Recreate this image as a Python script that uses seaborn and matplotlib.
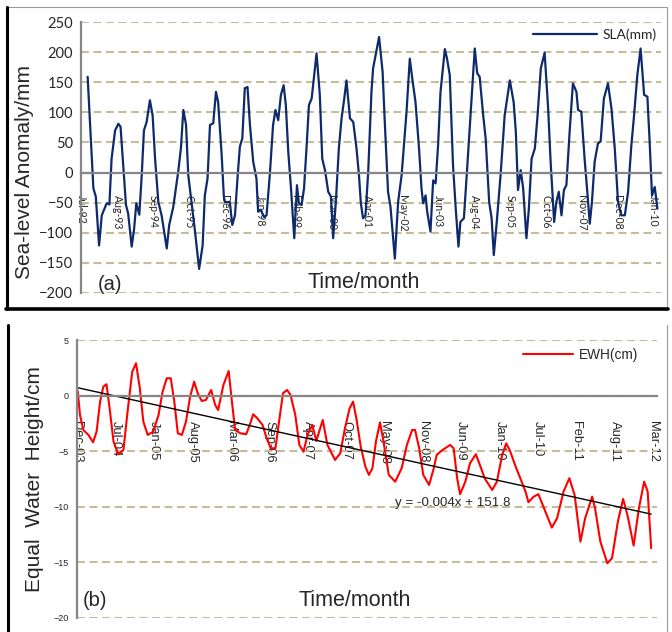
import numpy as np
import pandas as pd
import matplotlib
matplotlib.use("Agg")
import matplotlib.pyplot as plt
from matplotlib.lines import Line2D
import seaborn as sns

# (a) sea-level anomaly, x = months after the first date tick (Jul-92)
sla_start = "1992-07-16"
sla_months = [2.3, 4.4, 5.3, 6.5, 7.5, 9.3, 10.3, 11.1, 12.4, 13.6,
              14.4, 15.4, 16.4, 17.2, 18.5, 19.4, 20.2, 21.3, 22.2, 23.0,
              24.0, 25.2, 26.2, 27.1, 28.3, 29.5, 31.4, 32.3, 33.8, 35.6,
              36.6, 37.5, 38.5, 39.3, 40.5, 41.8, 43.3, 44.6, 45.4, 46.4,
              47.3, 48.5, 49.5, 50.3, 51.6, 52.4, 52.8, 54.6, 55.5, 56.5,
              57.5, 58.3, 59.2, 60.1, 61.1, 62.0, 63.2, 64.4, 65.0, 66.0,
              67.2, 68.1, 69.3, 70.5, 71.4, 72.4, 73.4, 74.4, 75.2, 76.1,
              77.1, 78.3, 79.3, 80.0, 81.0, 81.9, 82.8, 83.7, 84.7, 86.5,
              87.7, 88.6, 89.6, 90.8, 91.8, 92.6, 93.6, 94.7, 95.7, 96.7,
              97.5, 98.8, 100.0, 101.2, 102.1, 102.8, 103.6, 104.5, 105.5, 106.7,
              107.3, 109.5, 110.8, 111.6, 112.8, 113.7, 115.3, 116.5, 117.8, 119.6,
              120.8, 121.8, 122.9, 124.2, 125.1, 125.7, 126.6, 127.2, 128.4, 129.4,
              130.3, 131.2, 132.1, 133.7, 134.5, 135.5, 136.7, 137.7, 138.7, 139.4,
              140.7, 141.9, 142.9, 144.7, 145.6, 146.5, 147.8, 148.7, 150.0, 150.9,
              151.7, 152.7, 154.2, 155.7, 157.6, 159.0, 159.8, 160.6, 161.6, 162.5,
              163.7, 164.6, 165.6, 166.8, 167.8, 169.0, 170.4, 171.7, 172.6, 173.9,
              174.7, 175.6, 176.6, 177.5, 178.4, 179.6, 180.8, 182.1, 182.7, 183.9,
              185.1, 186.1, 187.0, 187.8, 188.8, 190.0, 191.0, 192.2, 193.7, 195.0,
              196.2, 197.4, 198.6, 199.9, 201.1, 202.3, 203.3, 204.5, 205.7, 207.0,
              208.2, 209.0, 209.9, 210.9, 211.9]
sla_mm = [159, -26, -40, -121, -71, -51, -53, 23, 70, 81,
          76, 12, -54, -68, -123, -93, -51, -70, -4, 70,
          84, 120, 95, 23, -49, -71, -126, -87, -57, 1,
          40, 104, 79, -4, -49, -98, -160, -121, -38, -10,
          79, 82, 134, 117, 29, -40, -49, -49, -87, -71,
          -4, 43, 57, 140, 142, 79, 18, -10, -65, -62,
          -74, -71, -4, 79, 104, 87, 129, 145, 112, 34,
          -26, -109, -21, -51, -54, -26, 40, 112, 123, 198,
          129, 23, 4, -32, -40, -109, -49, 40, 90, 123,
          153, 90, 84, 40, -4, -51, -76, -71, 1, 134,
          173, 225, 167, 84, -32, -57, -143, -49, -4, 101,
          189, 153, 117, 40, -26, -51, -38, -65, -98, -13,
          -18, 45, 134, 205, 189, 162, 12, -60, -123, -82,
          -76, 7, 79, 206, 165, 159, 95, 57, -49, -76,
          -137, -87, -4, 95, 153, 117, 68, -29, 4, -26,
          -109, -60, 23, 40, 95, 173, 199, 106, 18, -82,
          -49, -32, -71, -29, -21, 68, 148, 134, 104, 101,
          23, -32, -85, -49, 18, 48, 52, 123, 148, 106,
          40, -49, -71, -71, -32, 45, 95, 162, 206, 129,
          126, 54, -38, -24, -60]
sla_ticks = ["Jul-92", "Aug-93", "Sep-94", "Oct-95", "Dec-96", "Jan-98",
             "Feb-99", "Mar-00", "Apr-01", "May-02", "Jun-03", "Aug-04",
             "Sep-05", "Oct-06", "Nov-07", "Dec-08", "Jan-10"]

# (b) equal water height, x = months after Dec-03
ewh_start = "2003-12-28"
ewh_months = [0.07, 0.46, 1.03, 1.9, 2.7, 3.3, 3.9, 4.45, 5.0, 5.6,
              6.2, 7.0, 7.9, 8.6, 9.4, 10.05, 10.7, 11.3, 12.05, 13.0,
              13.9, 14.6, 15.3, 16.0, 16.6, 17.2, 17.9, 18.6, 19.3, 20.0,
              20.6, 21.3, 22.0, 22.9, 23.6, 24.1, 25.0, 25.9, 26.4, 27.0,
              27.9, 28.9, 29.6, 30.1, 30.8, 31.7, 32.4, 33.1, 33.9, 34.6,
              35.2, 35.9, 36.5, 37.3, 38.0, 38.7, 39.4, 40.2, 40.9, 42.0,
              42.8, 44.1, 45.0, 45.8, 46.6, 47.2, 47.8, 48.5, 49.3, 49.9,
              50.5, 51.1, 51.8, 52.4, 53.3, 54.4, 55.5, 56.4, 57.3, 57.8,
              58.5, 59.2, 60.2, 61.0, 61.5, 62.5, 63.8, 64.4, 65.0, 65.5,
              66.4, 67.2, 68.2, 69.0, 69.7, 71.0, 71.8, 72.7, 73.4, 74.1,
              74.9, 75.8, 76.7, 77.2, 78.1, 78.9, 80.1, 81.2, 82.1, 83.2,
              84.2, 85.1, 86.1, 86.9, 88.1, 88.6, 89.5, 90.7, 91.5, 92.5,
              93.4, 94.2, 95.2, 96.1, 97.0, 97.6, 98.2]
ewh_cm = [0.43, -1.73, -3.08, -3.53, -4.19, -3.23, -0.53, 0.82, 1.04, -1.43,
          -4.13, -5.27, -4.88, -1.43, 2.17, 2.93, 0.68, -2.33, -3.53, -3.23,
          -1.73, 0.37, 1.58, 1.58, -0.53, -3.38, -3.53, -2.33, -0.08, 1.27,
          0.23, -0.47, -0.38, 0.52, -0.83, -1.28, 0.97, 2.23, -0.23, -3.08,
          -3.38, -3.47, -2.48, -1.67, -2.03, -2.63, -3.83, -4.73, -4.73, -2.03,
          0.23, 0.52, 0.07, -1.73, -4.43, -5.04, -3.53, -2.63, -4.07, -2.18,
          -4.43, -5.78, -5.18, -2.93, -1.13, -0.53, -2.18, -4.58, -6.39, -7.13,
          -6.53, -4.13, -2.39, -4.13, -7.13, -7.74, -6.53, -4.43, -3.08, -3.08,
          -4.73, -7.13, -8.04, -6.53, -5.33, -4.88, -4.43, -4.73, -7.43, -8.87,
          -7.74, -6.08, -5.27, -6.39, -7.43, -8.49, -7.74, -5.33, -4.28, -5.04,
          -6.23, -7.43, -8.64, -9.59, -9.09, -8.87, -10.44, -11.88, -11.04, -8.64,
          -7.43, -8.94, -13.14, -11.04, -9.09, -10.14, -13.14, -15.09, -14.64, -11.34,
          -9.30, -10.89, -13.50, -10.14, -7.74, -8.64, -13.74]
ewh_ticks = ["Dec-03", "Jul-04", "Jan-05", "Aug-05", "Mar-06", "Sep-06",
             "Apr-07", "Oct-07", "May-08", "Nov-08", "Jun-09", "Jan-10",
             "Jul-10", "Feb-11", "Aug-11", "Mar-12"]

W, H = 672, 632
GRID = "#C4BD97"
AXIS = "#868686"


def to_dates(start, months):
    return pd.Timestamp(start) + pd.to_timedelta(np.array(months) * 30.44, unit="D")


def px_box(x0, x1, y0, y1):
    # pixel box (top-left origin) -> figure fraction rect
    return [x0 / W, 1 - y1 / H, (x1 - x0) / W, (y1 - y0) / H]


def style_axis(ax, start, step_days, labels, xmax_days, ylim, ystep,
               tick_font, tick_size, ytick_size, label_pad):
    ax.set_xlim(pd.Timestamp(start), pd.Timestamp(start) + pd.Timedelta(days=xmax_days))
    ax.set_ylim(*ylim)
    ax.set_yticks(np.arange(ylim[0], ylim[1] + 1, ystep))
    ax.yaxis.grid(True, color=GRID, linestyle=(0, (3.8, 2.2)), linewidth=1.5)
    ax.xaxis.grid(False)
    ax.set_axisbelow(True)
    for s in ["top", "right"]:
        ax.spines[s].set_visible(False)
    ax.spines["bottom"].set_position(("data", 0))
    for s in ["bottom", "left"]:
        ax.spines[s].set_color(AXIS)
        ax.spines[s].set_linewidth(1.6)
    tick_dates = pd.Timestamp(start) + pd.to_timedelta(np.arange(len(labels)) * step_days, unit="D")
    ax.set_xticks(tick_dates, labels=labels)
    for t in ax.get_xticklabels():
        t.set_rotation(270)
        t.set_fontfamily(tick_font)
        t.set_fontsize(tick_size)
        t.set_va("top")
        t.set_ha("center")
    ax.tick_params(axis="x", direction="out", length=3, width=1.2, color=AXIS, pad=label_pad)
    ax.tick_params(axis="y", direction="out", length=3, width=1.2, color=AXIS,
                   labelsize=ytick_size, pad=3)
    for t in ax.get_yticklabels():
        t.set_fontfamily(tick_font)
    ax.set_xlabel("")
    ax.set_ylabel("")


sns.set_style("white")
plt.rcParams["font.family"] = ["Liberation Sans", "DejaVu Sans"]

fig = plt.figure(figsize=(W / 100, H / 100), dpi=100)

# ---- panel (a)
ax1 = fig.add_axes(px_box(81.4, 661, 22, 293))
df_a = pd.DataFrame({"date": to_dates(sla_start, sla_months), "SLA": sla_mm})
sns.lineplot(data=df_a, x="date", y="SLA", ax=ax1, color="#0E2A6A",
             linewidth=1.6, label="SLA(mm)", estimator=None, sort=False)
style_axis(ax1, sla_start, 400, sla_ticks, 6490, (-200, 250), 50,
           "Lato", 7.6, 10.5, 13)
ax1.legend(loc="center right", bbox_to_anchor=(0.992, 0.952), frameon=False,
           prop={"family": "Lato", "size": 10}, handlelength=4.6,
           handletextpad=0.4, borderpad=0, borderaxespad=0)

# ---- panel (b)
ax2 = fig.add_axes(px_box(77.3, 656.7, 340.3, 617.7))
dates_b = to_dates(ewh_start, ewh_months)
df_b = pd.DataFrame({"date": dates_b, "EWH": ewh_cm})
sns.lineplot(data=df_b, x="date", y="EWH", ax=ax2, color="#FF0000",
             linewidth=1.5, label="EWH(cm)", estimator=None, sort=False)
# linear trend over the EWH series
xnum = matplotlib.dates.date2num(dates_b)
sns.regplot(x=xnum, y=np.array(ewh_cm), ax=ax2, scatter=False, ci=None,
            truncate=True, line_kws={"color": "black", "linewidth": 1.0})
style_axis(ax2, ewh_start, 200, ewh_ticks, 3018, (-20, 5), 5,
           "Liberation Sans", 9.3, 6.5, 15)
ax2.legend(handles=[Line2D([], [], color="#FF0000", linewidth=1.5)], labels=["EWH(cm)"],
           loc="center right", bbox_to_anchor=(0.968, 0.947), frameon=False,
           prop={"size": 9.8}, handlelength=3.7, handletextpad=0.4,
           borderpad=0, borderaxespad=0)
ax2.text(pd.Timestamp(ewh_start) + pd.Timedelta(days=64.3 * 30.44), -9.7,
         "y = -0.004x + 151.8", ha="center", va="center", fontsize=9.6)

# ---- labels
fig.text(25 / W, 1 - 172 / H, "Sea-level Anomaly/mm", rotation=90,
         ha="center", va="center", fontsize=15)
fig.text(364 / W, 1 - 283 / H, "Time/month", ha="center", va="center", fontsize=15.5)
fig.text(98 / W, 1 - 285 / H, "(a)", ha="left", va="center", fontsize=14.5)

fig.text(35 / W, 1 - 479 / H, "Equal  Water  Height/cm", rotation=90,
         ha="center", va="center", fontsize=15)
fig.text(355 / W, 1 - 600 / H, "Time/month", ha="center", va="center", fontsize=15.5)
fig.text(83 / W, 1 - 601 / H, "(b)", ha="left", va="center", fontsize=14.5)

# ---- panel frames
def fig_line(x0, y0, x1, y1, color, lw):
    fig.add_artist(Line2D([x0 / W, x1 / W], [1 - y0 / H, 1 - y1 / H],
                          transform=fig.transFigure, color=color, linewidth=lw))

fig_line(7, 7, 667, 7, "#9A9A9A", 0.8)
fig_line(667, 7, 667, 309, "#9A9A9A", 0.8)
fig_line(7, 7, 7, 309, "black", 2.2)
fig_line(6, 308.5, 668, 308.5, "black", 2.6)
fig_line(8, 325, 8, 632, "black", 2.2)
fig_line(667, 325, 667, 632, "#9A9A9A", 0.8)

fig.savefig("out.png", dpi=100)
